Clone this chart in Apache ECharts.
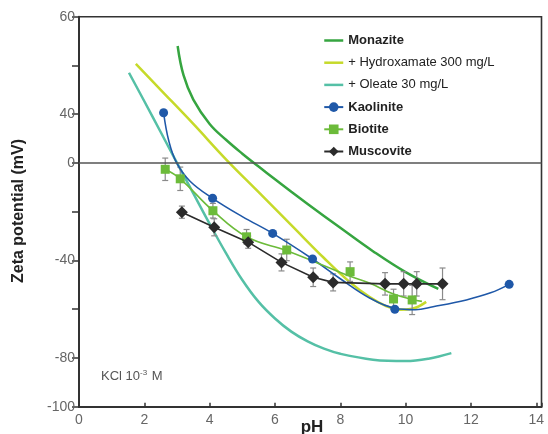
<!DOCTYPE html>
<html>
<head>
<meta charset="utf-8">
<script src="https://cdn.jsdelivr.net/npm/echarts@6/dist/echarts.min.js"></script>
<style>html,body{margin:0;padding:0;background:#fff;}#c{width:548px;height:434px;}</style>
</head>
<body>
<div id="c"></div>
<script>
// ---- data ----
var xTicks = [0, 2, 4, 6, 8, 10, 12, 14];
var yTickValues = [-100, -80, -60, -40, -20, 0, 20, 40, 60];
var yTickLabels = ['-100', '-80', '', '-40', '', '0', '40', '', '60'];

var monazite = [[3.02,48],[3.2,36],[3.5,26],[4.0,16],[4.5,9.5],[5.0,3.8],[5.5,-1.5],[6.0,-6.7],[6.5,-11.8],[7.0,-16.8],[8.0,-26.6],[9.0,-36.2],[10.0,-44.8],[11.0,-51.7]];
var hydroxamate = [[1.74,40.6],[2.5,30],[3.5,16],[4.5,1.5],[5.5,-12],[6.5,-25.5],[7.5,-39],[8.3,-49],[8.9,-55],[9.4,-58.7],[9.8,-60.2],[10.2,-59.8],[10.63,-57]];
var oleate = [[1.53,37],[2.0,25.3],[2.5,12.7],[3.0,0],[3.5,-12.5],[4.0,-25],[4.5,-37],[5.0,-48],[5.5,-57],[6.0,-63.8],[6.5,-69.2],[7.0,-73.2],[7.5,-76.2],[8.0,-78.3],[9.0,-80.7],[10.0,-81.3],[10.7,-80.3],[11.4,-78]];

var kaolinite = [[2.59,20.6],[4.09,-14.5],[5.93,-28.9],[7.15,-39.4],[9.67,-60],[13.17,-49.8]];
var kaoliniteFit = [[2.59,20.6],[2.75,9],[2.99,0],[3.4,-7.5],[4.09,-14.5],[5.0,-22],[5.93,-28.9],[7.15,-39.4],[8.0,-47.5],[8.91,-55.5],[9.67,-59.6],[10.3,-60.2],[10.84,-59],[11.86,-56.2],[12.6,-53.3],[13.17,-49.8]];

var biotite = [[2.64,-2.6],[3.1,-6.5],[4.1,-19.6],[5.13,-30.3],[6.36,-35.7],[8.3,-44.6],[9.63,-55.8],[10.2,-56.2]];
var biotiteErr = [4.6,4.8,3,3,4.4,4,4,6];
var biotiteFit = [[2.64,-2.6],[3.1,-6.5],[4.1,-19.6],[5.13,-30.3],[6.36,-36],[7.3,-41],[8.3,-46.5],[8.91,-49.4],[9.63,-53.8],[10.2,-56],[10.5,-56.8]];

var muscovite = [[3.15,-20.2],[4.14,-26.4],[5.18,-32.5],[6.2,-40.8],[7.17,-46.9],[7.78,-49],[9.37,-49.6],[9.94,-49.6],[10.34,-49.6],[11.13,-49.6]];
var muscoviteErr = [2.5,3.5,2.5,3.5,3.8,3.5,4.6,5,5,6.5];

var names = ['Monazite', '+ Hydroxamate 300 mg/L', '+ Oleate 30 mg/L', 'Kaolinite', 'Biotite', 'Muscovite'];
var colors = ['#36a540', '#c6da2a', '#55c0a6', '#1f58a8', '#6cbb3a', '#2b2b2b'];

function errData(pts, errs) {
  return pts.map(function (p, i) { return [p[0], p[1] - errs[i], p[1] + errs[i]]; });
}
function errRender(params, api) {
  var x = api.value(0);
  var lo = api.coord([x, api.value(1)]);
  var hi = api.coord([x, api.value(2)]);
  var cap = 3;
  var st = { stroke: '#8a8a8a', lineWidth: 1.2 };
  return {
    type: 'group',
    children: [
      { type: 'line', shape: { x1: lo[0], y1: lo[1], x2: hi[0], y2: hi[1] }, style: st },
      { type: 'line', shape: { x1: lo[0] - cap, y1: lo[1], x2: lo[0] + cap, y2: lo[1] }, style: st },
      { type: 'line', shape: { x1: hi[0] - cap, y1: hi[1], x2: hi[0] + cap, y2: hi[1] }, style: st }
    ]
  };
}

var chart = echarts.init(document.getElementById('c'), null, { renderer: 'canvas' });
var font = 'Liberation Sans, Arial, Helvetica, sans-serif';

function legendLineOnly(i) {
  return { name: names[i], itemStyle: { opacity: 0 }, lineStyle: { color: colors[i], width: 2.5, opacity: 1 } };
}
function legendMarker(i) {
  return { name: names[i], textStyle: { fontWeight: 'bold' }, lineStyle: { color: colors[i], width: 2, opacity: 1 } };
}

var lineOpts = { smooth: 0.4, symbol: 'none', z: 2 };

chart.setOption({
  animation: false,
  backgroundColor: '#fff',
  textStyle: { fontFamily: font },
  grid: { left: 79, right: 6.5, top: 16.7, bottom: 27.3, show: true, borderColor: '#333', borderWidth: 1.6 },
  legend: {
    orient: 'vertical', left: 318, top: 29,
    itemWidth: 19, itemHeight: 12, itemGap: 9.2,
    textStyle: { fontSize: 13, color: '#222', fontFamily: font },
    data: [
      (function () { var o = legendLineOnly(0); o.textStyle = { fontWeight: 'bold' }; return o; })(),
      legendLineOnly(1),
      legendLineOnly(2),
      legendMarker(3),
      legendMarker(4),
      legendMarker(5)
    ]
  },
  xAxis: {
    type: 'value', min: 0, max: 14.16, interval: 2,
    axisLine: { onZero: false, lineStyle: { color: '#333', width: 2 } },
    axisTick: { inside: true, length: 4, lineStyle: { color: '#333', width: 1.5 } },
    axisLabel: { color: '#666', fontSize: 14, margin: 6,
      formatter: function (v) { return xTicks.indexOf(v) >= 0 ? String(v) : ''; } },
    splitLine: { show: false }
  },
  yAxis: {
    type: 'value', min: -100, max: 60, interval: 20,
    axisLine: { onZero: false, lineStyle: { color: '#333', width: 2 } },
    axisTick: { inside: false, length: 7, lineStyle: { color: '#333', width: 1.5 } },
    axisLabel: { color: '#666', fontSize: 14, margin: 4,
      formatter: function (v) { var i = yTickValues.indexOf(v); return i >= 0 ? yTickLabels[i] : ''; } },
    splitLine: { show: false }
  },
  graphic: [
    { type: 'text', x: 19, y: 211, rotation: Math.PI / 2,
      style: { text: 'Zeta potential (mV)', font: 'bold 16px ' + font, fill: '#222', textAlign: 'center', textVerticalAlign: 'middle' } },
    { type: 'text', x: 312, y: 427,
      style: { text: 'pH', font: 'bold 17px ' + font, fill: '#222', textAlign: 'center', textVerticalAlign: 'middle' } },
    { type: 'text', x: 101, y: 376,
      style: { text: 'KCl 10{s|-3} M', fontSize: 13, fontFamily: font, fill: '#555', textVerticalAlign: 'middle',
        rich: { s: { fontSize: 8, fill: '#555', verticalAlign: 'top', padding: [0, 1, 6, 0] } } } }
  ],
  series: [
    { name: 'zero', type: 'line', data: [], silent: true, z: 1,
      markLine: { silent: true, symbol: 'none', label: { show: false },
        lineStyle: { color: '#555', width: 1.6, type: 'solid' }, data: [{ yAxis: 0 }] } },
    Object.assign({ name: names[2], type: 'line', data: oleate,
      lineStyle: { color: colors[2], width: 2.5 }, itemStyle: { color: colors[2] } }, lineOpts),
    Object.assign({ name: names[1], type: 'line', data: hydroxamate,
      lineStyle: { color: colors[1], width: 2.5 }, itemStyle: { color: colors[1] } }, lineOpts),
    Object.assign({ name: names[0], type: 'line', data: monazite,
      lineStyle: { color: colors[0], width: 2.5 }, itemStyle: { color: colors[0] } }, lineOpts),
    Object.assign({ name: 'kaolFit', type: 'line', data: kaoliniteFit, silent: true,
      lineStyle: { color: colors[3], width: 1.6 } }, lineOpts, { z: 3 }),
    Object.assign({ name: 'bioFit', type: 'line', data: biotiteFit, silent: true,
      lineStyle: { color: colors[4], width: 1.6 } }, lineOpts, { z: 3 }),
    { name: 'bioErr', type: 'custom', renderItem: errRender, data: errData(biotite, biotiteErr), z: 3, silent: true },
    { name: 'musErr', type: 'custom', renderItem: errRender, data: errData(muscovite, muscoviteErr), z: 3, silent: true },
    { name: names[3], type: 'line', data: kaolinite, symbol: 'circle', symbolSize: 9, z: 4,
      lineStyle: { color: colors[3], width: 0, opacity: 0 }, itemStyle: { color: colors[3] } },
    { name: names[4], type: 'line', data: biotite, symbol: 'rect', symbolSize: 9, z: 4,
      lineStyle: { color: colors[4], width: 0, opacity: 0 }, itemStyle: { color: colors[4] } },
    { name: names[5], type: 'line', data: muscovite, smooth: false, symbol: 'diamond', symbolSize: 12, z: 5,
      lineStyle: { color: colors[5], width: 1.6 }, itemStyle: { color: colors[5] } }
  ]
});
</script>
</body>
</html>
